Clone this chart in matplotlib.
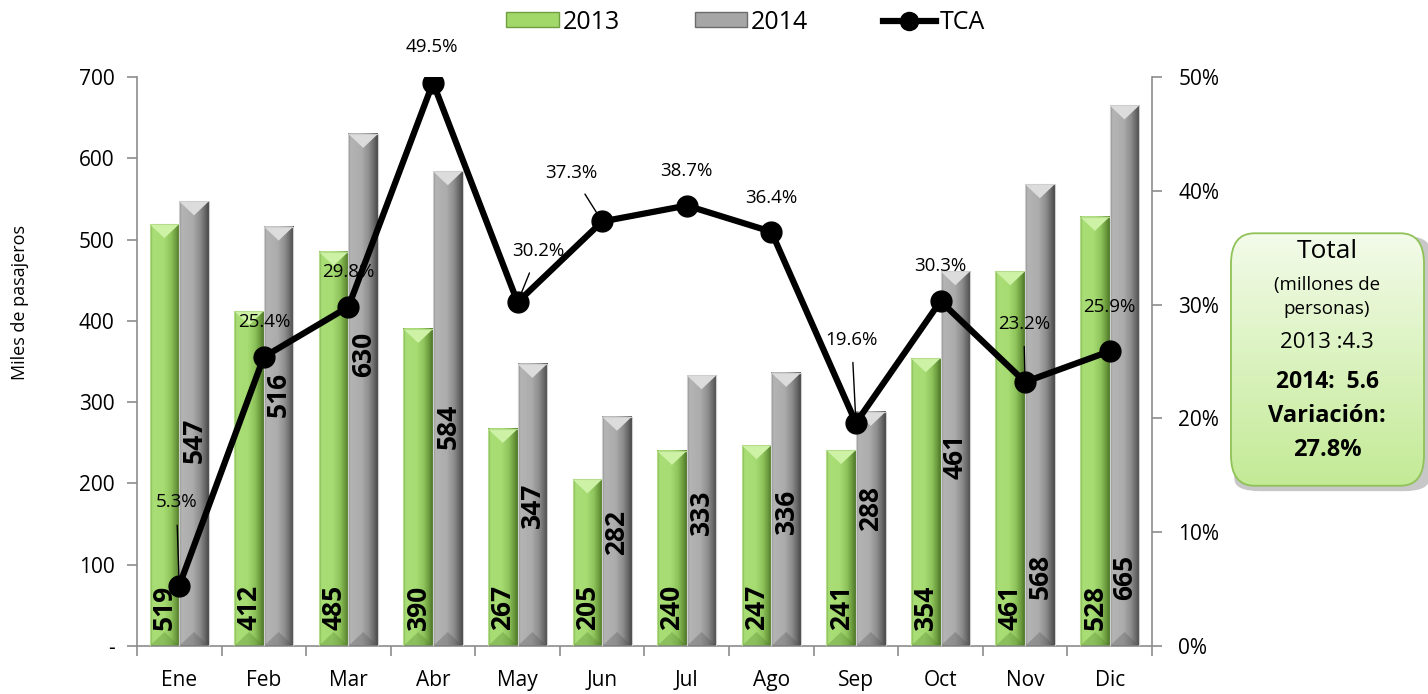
import numpy as np
import matplotlib
matplotlib.use("Agg")
import matplotlib.pyplot as plt
from matplotlib.patches import Polygon, FancyBboxPatch, Patch
from matplotlib.lines import Line2D
from matplotlib.ticker import FuncFormatter, MultipleLocator
from matplotlib.colors import LinearSegmentedColormap

plt.rcParams['font.family'] = ['Open Sans', 'DejaVu Sans']

# ---------------- data ----------------
months = ["Ene", "Feb", "Mar", "Abr", "May", "Jun", "Jul", "Ago", "Sep", "Oct", "Nov", "Dic"]
pax_2013 = [519, 412, 485, 390, 267, 205, 240, 247, 241, 354, 461, 528]
pax_2014 = [547, 516, 630, 584, 347, 282, 333, 336, 288, 461, 568, 665]
tca = [5.3, 25.4, 29.8, 49.5, 30.2, 37.3, 38.7, 36.4, 19.6, 30.3, 23.2, 25.9]

# label placement (style, not data)
gray_label_y = [253, 309, 359, 270, 173, 139, 165, 165, 169, 233, 85, 84]
green_label_y = 48
# offsets of TCA labels in points (dx, dy) and whether a leader line is drawn
tca_offsets = [(-2, 60), (0, 25), (0, 25), (-1, 26), (15, 37), (-22, 35),
               (0, 25), (0, 24), (-3, 60), (0, 25), (-1, 42), (0, 32)]
tca_leader = [True, False, False, False, True, True, False, False, True, False, True, False]

GREEN = "#a2d86a"
GRAY = "#a6a6a6"
green_grad = LinearSegmentedColormap.from_list("gg", [(0, "#7aa848"), (0.08, "#a9de76"), (0.45, "#a6dc72"),
                                                      (0.7, "#8fc45c"), (0.86, "#6f9f40"), (1, "#4c7628")])
gray_grad = LinearSegmentedColormap.from_list("gr", [(0, "#8a8a8a"), (0.08, "#b4b4b4"), (0.45, "#acacac"),
                                                     (0.7, "#8e8e8e"), (0.86, "#6c6c6c"), (1, "#484848")])

fig = plt.figure(figsize=(14.28, 6.94), dpi=100)
ax = fig.add_axes([0.0959, 0.0692, 0.7108, 0.8199])
ax2 = ax.twinx()

x = np.arange(len(months))
w = 0.35
bars13 = ax.bar(x - w / 2, pax_2013, width=w, color=GREEN, edgecolor="none", zorder=2)
bars14 = ax.bar(x + w / 2, pax_2014, width=w, color=GRAY, edgecolor="none", zorder=2)

# bevel decoration derived from bar geometry
px_to_units = 700 / 568.0
d = 14 * px_to_units
hgrad = np.linspace(0, 1, 64).reshape(1, -1)
for bars, cmap, light, dark, edge in [(bars13, green_grad, "#cdf2a6", "#4f7a2a", "#b5dc8a"),
                                      (bars14, gray_grad, "#dcdcdc", "#505050", "#cfcfcf")]:
    for p in bars:
        x0 = p.get_x(); wd = p.get_width(); h = p.get_height(); x1 = x0 + wd
        xc = x0 + wd / 2
        ax.imshow(hgrad, extent=(x0, x1, 0, h), cmap=cmap, aspect="auto", zorder=2.5,
                  interpolation="bilinear")
        ax.add_patch(Polygon([(x0, h), (x1, h), (xc, h - d)], closed=True, color=light,
                             lw=0, zorder=3))
        ax.add_patch(Polygon([(x0, 0), (x1, 0), (xc, d)], closed=True, color=dark,
                             alpha=0.3, lw=0, zorder=3))
        ax.add_patch(Polygon([(x0, 0), (x0, h), (x1, h), (x1, 0)], closed=True,
                             fill=False, edgecolor=edge, lw=0.8, zorder=3))

ax.set_xlim(-0.5, len(months) - 0.5)
ax.set_ylim(0, 700)
ax2.set_ylim(0, 50)

# bar value labels
for i, p in enumerate(bars13):
    ax.text(p.get_x() + p.get_width() / 2, green_label_y, str(pax_2013[i]), rotation=90,
            ha="center", va="center", fontsize=19, fontweight="bold", zorder=4)
for i, p in enumerate(bars14):
    ax.text(p.get_x() + p.get_width() / 2, gray_label_y[i], str(pax_2014[i]), rotation=90,
            ha="center", va="center", fontsize=19, fontweight="bold", zorder=4)

# TCA line
ax2.plot(x, tca, color="black", lw=4.5, marker="o", markersize=15, zorder=5)
for i, v in enumerate(tca):
    dx, dy = tca_offsets[i]
    kw = dict(xy=(x[i], v), xytext=(dx, dy), textcoords="offset points",
              ha="center", va="center", fontsize=13.5)
    if tca_leader[i]:
        kw["arrowprops"] = dict(arrowstyle="-", color="black", lw=1, shrinkA=8, shrinkB=6)
    ax2.annotate(f"{v:.1f}%", **kw)

# axes styling
axis_col = "#8c8c8c"
for a in (ax, ax2):
    a.spines["top"].set_visible(False)
    for s in ("left", "right", "bottom"):
        a.spines[s].set_color(axis_col)
        a.spines[s].set_linewidth(1.2)
ax.spines["right"].set_visible(False)
ax2.spines["left"].set_visible(False)
ax2.spines["bottom"].set_visible(False)

ax.yaxis.set_major_locator(MultipleLocator(100))
ax.yaxis.set_major_formatter(FuncFormatter(lambda v, p: "-" if v == 0 else f"{int(v)}"))
ax2.yaxis.set_major_locator(MultipleLocator(10))
ax2.yaxis.set_major_formatter(FuncFormatter(lambda v, p: f"{int(v)}%"))

ax.set_xticks(x)
ax.set_xticklabels(months)
ax.set_xticks(np.arange(-0.5, len(months)), minor=True)
ax.tick_params(axis="x", which="major", length=0, labelsize=15, pad=17)
ax.tick_params(axis="x", which="minor", length=7, color=axis_col, width=1.2)
ax.tick_params(axis="y", length=7, color=axis_col, width=1.2, labelsize=15, pad=9)
ax2.tick_params(axis="y", length=7, color=axis_col, width=1.2, labelsize=15, pad=12)

fig.text(20 / 1428, 1 - 302 / 694, "Miles de pasajeros", rotation=90, ha="center",
         va="center", fontsize=13)

# legend
handles = [Patch(facecolor=GREEN, edgecolor="#6f9f40", lw=1),
           Patch(facecolor=GRAY, edgecolor="#6c6c6c", lw=1),
           Line2D([0], [0], color="black", lw=4.5, marker="o", markersize=13)]
fig.legend(handles, ["2013", "2014", "TCA"], loc="center", bbox_to_anchor=(0.522, 0.968),
           ncol=3, frameon=False, fontsize=18, handlelength=2.1, handleheight=0.55,
           handletextpad=0.15, columnspacing=3.0)

# Total box
bx, by, bw, bh = 1230 / 1428, 1 - 487 / 694, 195 / 1428, 255 / 694
shadow = FancyBboxPatch((bx + 0.003, by - 0.006), bw, bh, boxstyle="round,pad=0,rounding_size=0.018",
                        transform=fig.transFigure, facecolor="#9a9a9a", edgecolor="none",
                        alpha=0.55, zorder=1)
fig.patches.append(shadow)
bax = fig.add_axes([bx, by, bw, bh], zorder=2)
bax.set_xlim(0, 1); bax.set_ylim(0, 1); bax.axis("off")
grad = np.linspace(0, 1, 256).reshape(-1, 1)
cmap = LinearSegmentedColormap.from_list("g", ["#c3ea95", "#f3fbea"])
im = bax.imshow(grad, extent=(0, 1, 0, 1), origin="lower", cmap=cmap, aspect="auto")
box = FancyBboxPatch((0.005, 0.005), 0.99, 0.99, boxstyle="round,pad=0,rounding_size=0.12",
                     transform=bax.transAxes, facecolor="none", edgecolor="#8fc257", lw=1.3)
bax.add_patch(box)
im.set_clip_path(box)

cx = 1327 / 1428
lines = [("Total", 252, 19, "normal"), ("(millones de", 285, 13.5, "normal"),
         ("personas)", 309, 13.5, "normal"), ("2013 :4.3", 342, 16, "normal"),
         ("2014:  5.6", 382, 16.5, "bold"), ("Variación:", 416, 17, "bold"),
         ("27.8%", 450, 17, "bold")]
for t, yy, fs, fw in lines:
    fig.text(cx, 1 - yy / 694, t, ha="center", va="center", fontsize=fs, fontweight=fw, zorder=5)

fig.savefig("out.png", dpi=100)
